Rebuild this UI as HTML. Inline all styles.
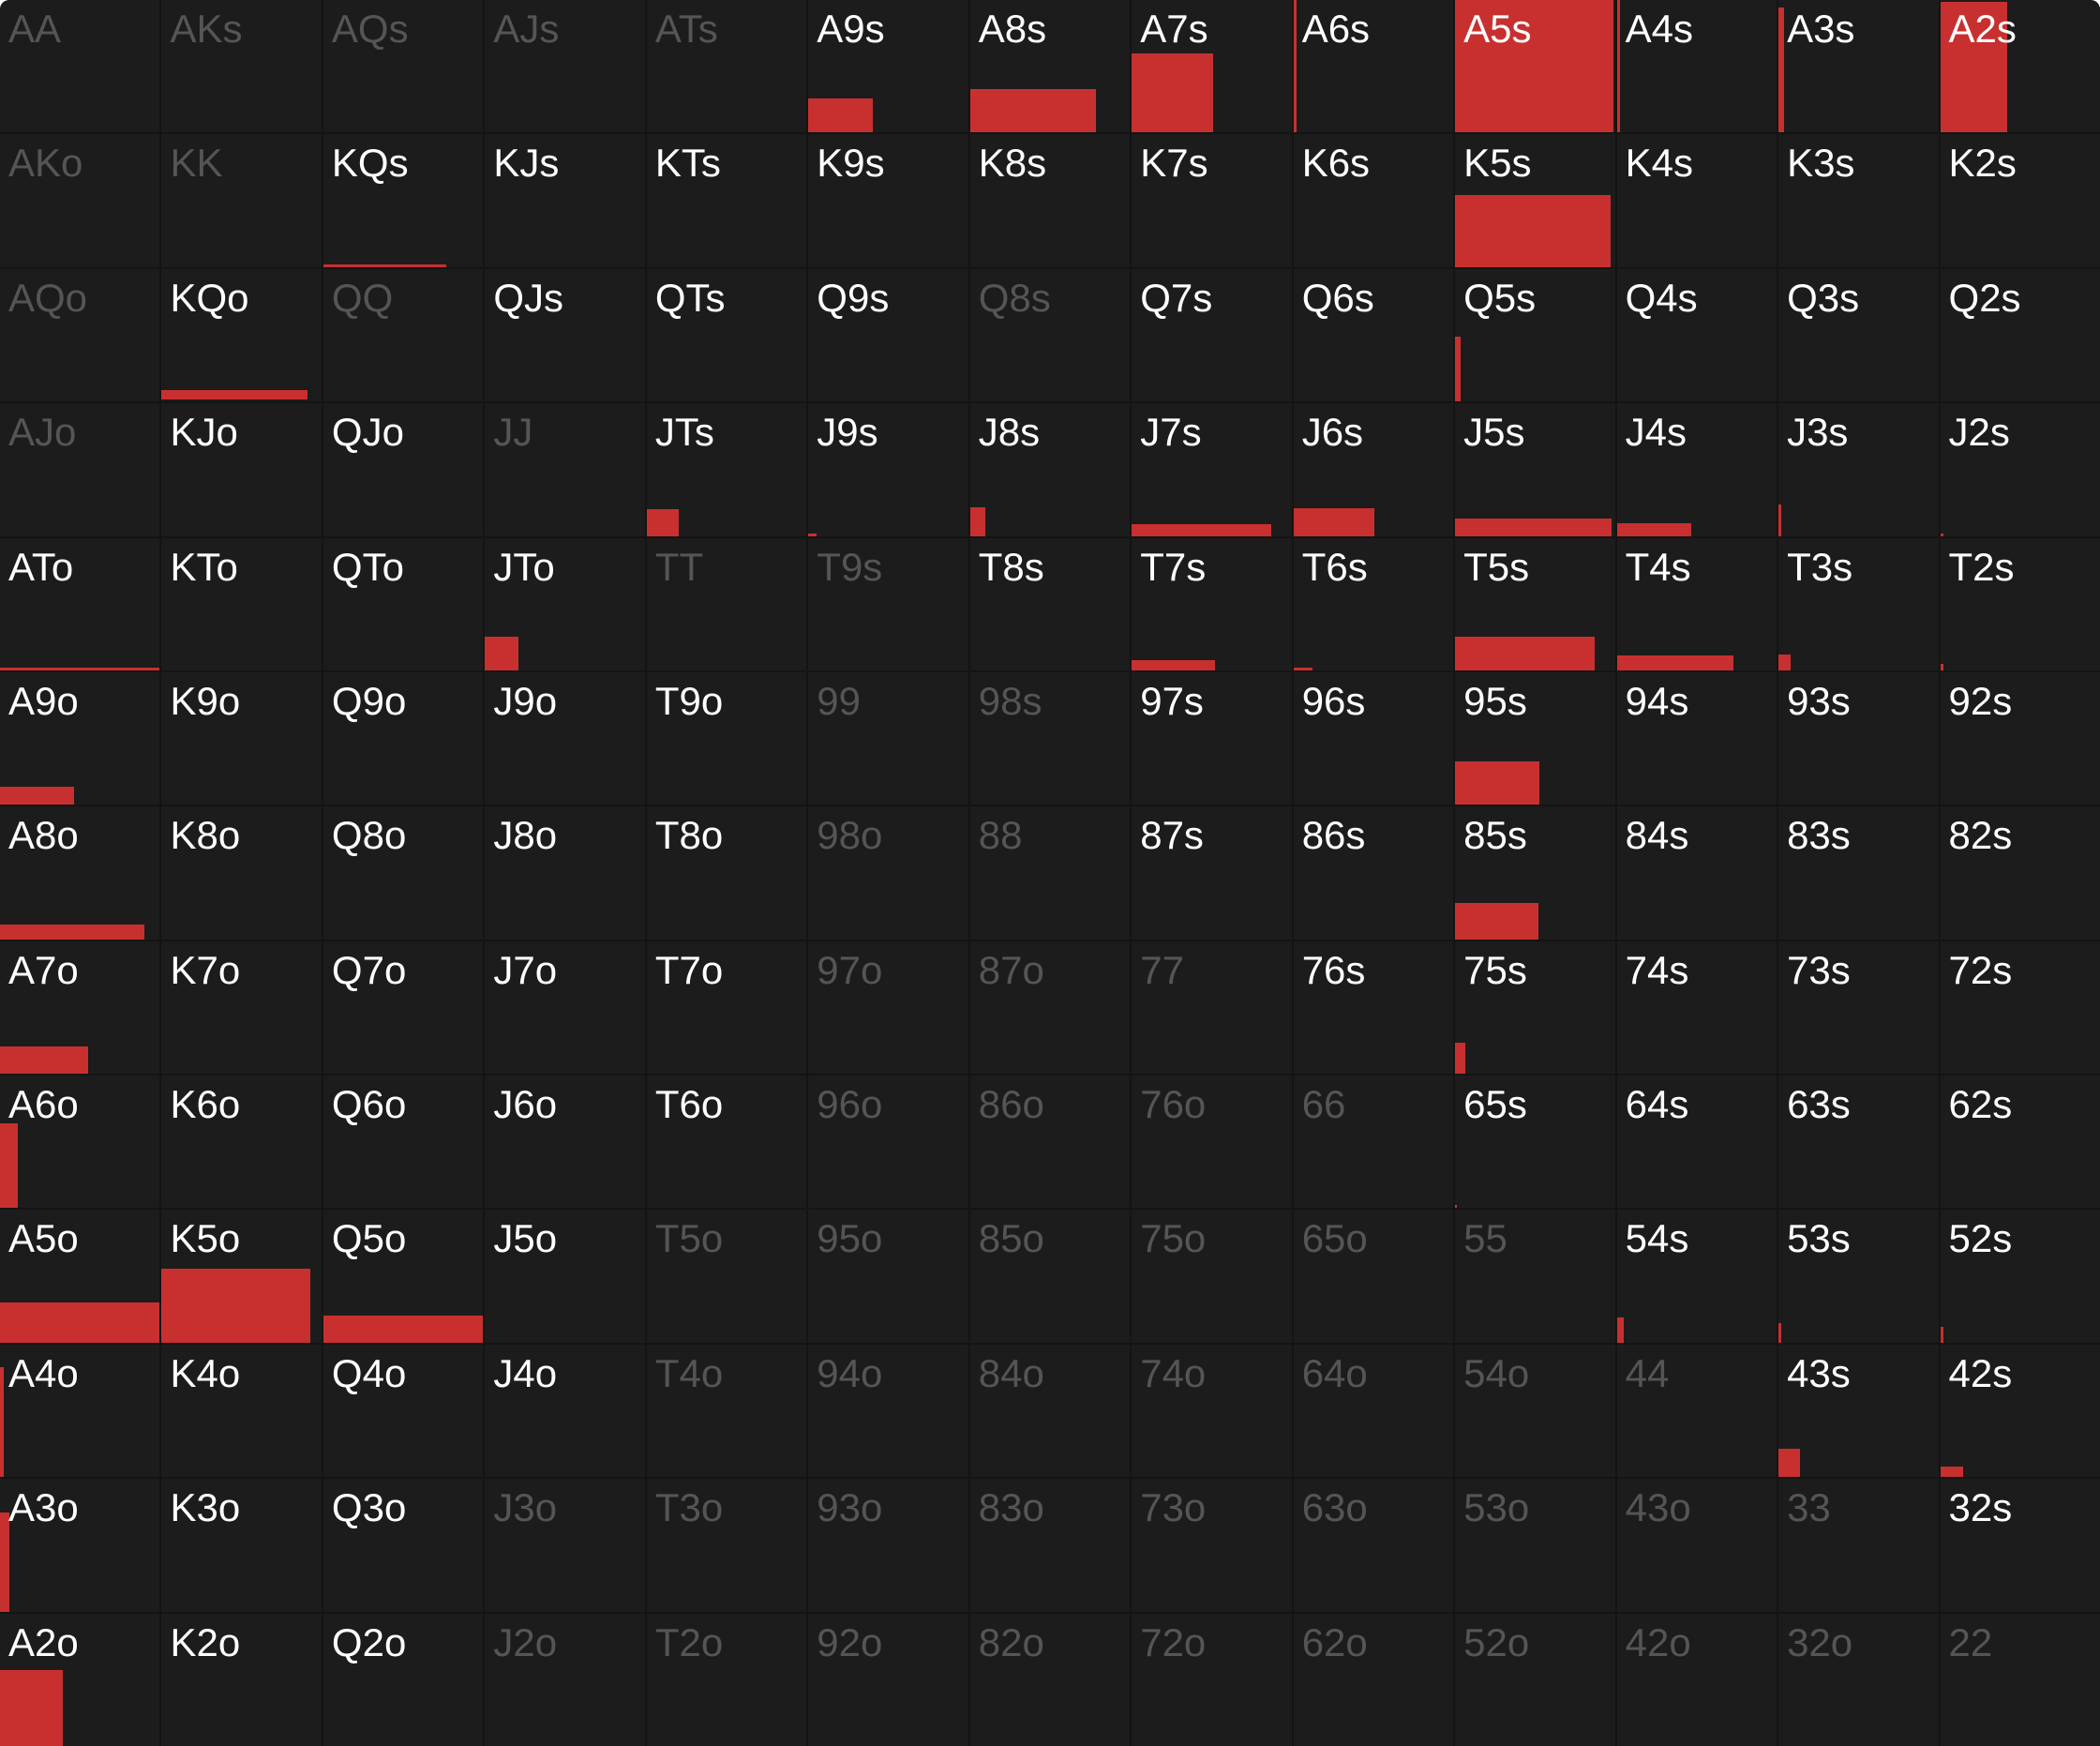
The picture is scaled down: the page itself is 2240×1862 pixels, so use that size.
<!DOCTYPE html>
<html><head><meta charset="utf-8"><style>
html,body{margin:0;padding:0;background:#fff;}
#g{position:relative;width:2240px;height:1862px;background:#141414;border-radius:10px 10px 0 0;overflow:hidden;display:grid;grid-template-columns:repeat(13,1fr);grid-template-rows:repeat(13,1fr);gap:2px;}
.c{position:relative;background:#1c1c1c;font-family:"Liberation Sans",sans-serif;font-size:42px;line-height:42px;color:#fff;}
.c span{position:absolute;left:9px;top:10px;z-index:2;}
.d span{color:#555;}
.b{position:absolute;left:0;bottom:0;background:#c83030;z-index:1;}
</style></head><body><div id="g">
<div class="c d"><span>AA</span></div><div class="c d"><span>AKs</span></div><div class="c d"><span>AQs</span></div><div class="c d"><span>AJs</span></div><div class="c d"><span>ATs</span></div><div class="c"><span>A9s</span><i class="b" style="width:69px;height:36px"></i></div><div class="c"><span>A8s</span><i class="b" style="width:134px;height:46px"></i></div><div class="c"><span>A7s</span><i class="b" style="width:87px;height:84px"></i></div><div class="c"><span>A6s</span><i class="b" style="width:3px;height:143px"></i></div><div class="c"><span>A5s</span><i class="b" style="width:169px;height:143px"></i></div><div class="c"><span>A4s</span><i class="b" style="width:3px;height:143px"></i></div><div class="c"><span>A3s</span><i class="b" style="width:6px;height:133px"></i></div><div class="c"><span>A2s</span><i class="b" style="width:71px;height:139px"></i></div>
<div class="c d"><span>AKo</span></div><div class="c d"><span>KK</span></div><div class="c"><span>KQs</span><i class="b" style="width:131px;height:3px"></i></div><div class="c"><span>KJs</span></div><div class="c"><span>KTs</span></div><div class="c"><span>K9s</span></div><div class="c"><span>K8s</span></div><div class="c"><span>K7s</span></div><div class="c"><span>K6s</span></div><div class="c"><span>K5s</span><i class="b" style="width:166px;height:77px"></i></div><div class="c"><span>K4s</span></div><div class="c"><span>K3s</span></div><div class="c"><span>K2s</span></div>
<div class="c d"><span>AQo</span></div><div class="c"><span>KQo</span><i class="b" style="width:156px;height:10px;bottom:2px"></i></div><div class="c d"><span>QQ</span></div><div class="c"><span>QJs</span></div><div class="c"><span>QTs</span></div><div class="c"><span>Q9s</span></div><div class="c d"><span>Q8s</span></div><div class="c"><span>Q7s</span></div><div class="c"><span>Q6s</span></div><div class="c"><span>Q5s</span><i class="b" style="width:6px;height:69px"></i></div><div class="c"><span>Q4s</span></div><div class="c"><span>Q3s</span></div><div class="c"><span>Q2s</span></div>
<div class="c d"><span>AJo</span></div><div class="c"><span>KJo</span></div><div class="c"><span>QJo</span></div><div class="c d"><span>JJ</span></div><div class="c"><span>JTs</span><i class="b" style="width:34px;height:29px"></i></div><div class="c"><span>J9s</span><i class="b" style="width:9px;height:3px"></i></div><div class="c"><span>J8s</span><i class="b" style="width:16px;height:31px"></i></div><div class="c"><span>J7s</span><i class="b" style="width:149px;height:13px"></i></div><div class="c"><span>J6s</span><i class="b" style="width:86px;height:30px"></i></div><div class="c"><span>J5s</span><i class="b" style="width:167px;height:19px"></i></div><div class="c"><span>J4s</span><i class="b" style="width:79px;height:14px"></i></div><div class="c"><span>J3s</span><i class="b" style="width:3px;height:34px"></i></div><div class="c"><span>J2s</span><i class="b" style="width:3px;height:3px"></i></div>
<div class="c"><span>ATo</span><i class="b" style="width:170px;height:3px"></i></div><div class="c"><span>KTo</span></div><div class="c"><span>QTo</span></div><div class="c"><span>JTo</span><i class="b" style="width:36px;height:36px"></i></div><div class="c d"><span>TT</span></div><div class="c d"><span>T9s</span></div><div class="c"><span>T8s</span></div><div class="c"><span>T7s</span><i class="b" style="width:89px;height:11px"></i></div><div class="c"><span>T6s</span><i class="b" style="width:20px;height:3px"></i></div><div class="c"><span>T5s</span><i class="b" style="width:149px;height:36px"></i></div><div class="c"><span>T4s</span><i class="b" style="width:124px;height:16px"></i></div><div class="c"><span>T3s</span><i class="b" style="width:13px;height:17px"></i></div><div class="c"><span>T2s</span><i class="b" style="width:3px;height:7px"></i></div>
<div class="c"><span>A9o</span><i class="b" style="width:79px;height:19px"></i></div><div class="c"><span>K9o</span></div><div class="c"><span>Q9o</span></div><div class="c"><span>J9o</span></div><div class="c"><span>T9o</span></div><div class="c d"><span>99</span></div><div class="c d"><span>98s</span></div><div class="c"><span>97s</span></div><div class="c"><span>96s</span></div><div class="c"><span>95s</span><i class="b" style="width:90px;height:46px"></i></div><div class="c"><span>94s</span></div><div class="c"><span>93s</span></div><div class="c"><span>92s</span></div>
<div class="c"><span>A8o</span><i class="b" style="width:154px;height:16px"></i></div><div class="c"><span>K8o</span></div><div class="c"><span>Q8o</span></div><div class="c"><span>J8o</span></div><div class="c"><span>T8o</span></div><div class="c d"><span>98o</span></div><div class="c d"><span>88</span></div><div class="c"><span>87s</span></div><div class="c"><span>86s</span></div><div class="c"><span>85s</span><i class="b" style="width:89px;height:39px"></i></div><div class="c"><span>84s</span></div><div class="c"><span>83s</span></div><div class="c"><span>82s</span></div>
<div class="c"><span>A7o</span><i class="b" style="width:94px;height:29px"></i></div><div class="c"><span>K7o</span></div><div class="c"><span>Q7o</span></div><div class="c"><span>J7o</span></div><div class="c"><span>T7o</span></div><div class="c d"><span>97o</span></div><div class="c d"><span>87o</span></div><div class="c d"><span>77</span></div><div class="c"><span>76s</span></div><div class="c"><span>75s</span><i class="b" style="width:11px;height:33px"></i></div><div class="c"><span>74s</span></div><div class="c"><span>73s</span></div><div class="c"><span>72s</span></div>
<div class="c"><span>A6o</span><i class="b" style="width:19px;height:90px"></i></div><div class="c"><span>K6o</span></div><div class="c"><span>Q6o</span></div><div class="c"><span>J6o</span></div><div class="c"><span>T6o</span></div><div class="c d"><span>96o</span></div><div class="c d"><span>86o</span></div><div class="c d"><span>76o</span></div><div class="c d"><span>66</span></div><div class="c"><span>65s</span><i class="b" style="width:2px;height:3px"></i></div><div class="c"><span>64s</span></div><div class="c"><span>63s</span></div><div class="c"><span>62s</span></div>
<div class="c"><span>A5o</span><i class="b" style="width:170px;height:43px"></i></div><div class="c"><span>K5o</span><i class="b" style="width:159px;height:79px"></i></div><div class="c"><span>Q5o</span><i class="b" style="width:170px;height:29px"></i></div><div class="c"><span>J5o</span></div><div class="c d"><span>T5o</span></div><div class="c d"><span>95o</span></div><div class="c d"><span>85o</span></div><div class="c d"><span>75o</span></div><div class="c d"><span>65o</span></div><div class="c d"><span>55</span></div><div class="c"><span>54s</span><i class="b" style="width:7px;height:27px"></i></div><div class="c"><span>53s</span><i class="b" style="width:3px;height:21px"></i></div><div class="c"><span>52s</span><i class="b" style="width:3px;height:17px"></i></div>
<div class="c"><span>A4o</span><i class="b" style="width:4px;height:117px"></i></div><div class="c"><span>K4o</span></div><div class="c"><span>Q4o</span></div><div class="c"><span>J4o</span></div><div class="c d"><span>T4o</span></div><div class="c d"><span>94o</span></div><div class="c d"><span>84o</span></div><div class="c d"><span>74o</span></div><div class="c d"><span>64o</span></div><div class="c d"><span>54o</span></div><div class="c d"><span>44</span></div><div class="c"><span>43s</span><i class="b" style="width:23px;height:30px"></i></div><div class="c"><span>42s</span><i class="b" style="width:24px;height:11px"></i></div>
<div class="c"><span>A3o</span><i class="b" style="width:10px;height:106px"></i></div><div class="c"><span>K3o</span></div><div class="c"><span>Q3o</span></div><div class="c d"><span>J3o</span></div><div class="c d"><span>T3o</span></div><div class="c d"><span>93o</span></div><div class="c d"><span>83o</span></div><div class="c d"><span>73o</span></div><div class="c d"><span>63o</span></div><div class="c d"><span>53o</span></div><div class="c d"><span>43o</span></div><div class="c d"><span>33</span></div><div class="c"><span>32s</span></div>
<div class="c"><span>A2o</span><i class="b" style="width:67px;height:81px"></i></div><div class="c"><span>K2o</span></div><div class="c"><span>Q2o</span></div><div class="c d"><span>J2o</span></div><div class="c d"><span>T2o</span></div><div class="c d"><span>92o</span></div><div class="c d"><span>82o</span></div><div class="c d"><span>72o</span></div><div class="c d"><span>62o</span></div><div class="c d"><span>52o</span></div><div class="c d"><span>42o</span></div><div class="c d"><span>32o</span></div><div class="c d"><span>22</span></div>
</div></body></html>
